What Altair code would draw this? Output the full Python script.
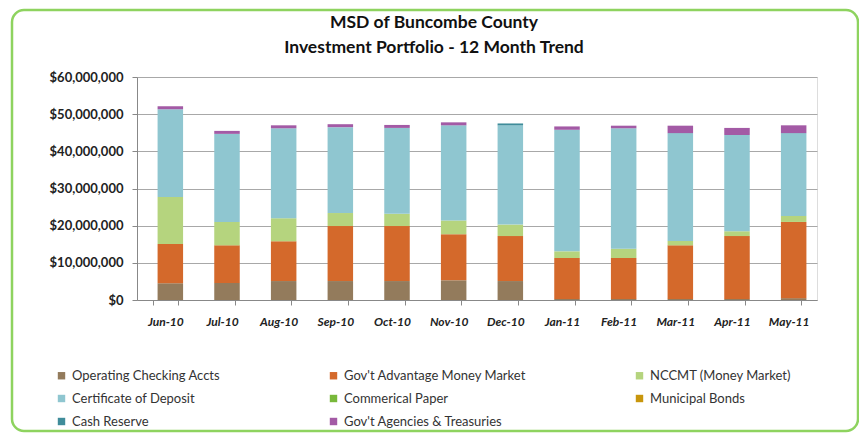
import altair as alt
import pandas as pd

months = ["Jun-10", "Jul-10", "Aug-10", "Sep-10", "Oct-10", "Nov-10",
          "Dec-10", "Jan-11", "Feb-11", "Mar-11", "Apr-11", "May-11"]

series = ["Operating Checking Accts", "Gov't Advantage Money Market",
          "NCCMT (Money Market)", "Certificate of Deposit", "Commerical Paper",
          "Municipal Bonds", "Cash  Reserve", "Gov't Agencies & Treasuries"]

colors = ["#937B5C", "#D4692B", "#B5D47E", "#8FC6D0", "#78B83A",
          "#C8960C", "#3F8C9A", "#A35AA5"]

# legend reading order (column by column, as the legend fills columns)
legend_order = ["Operating Checking Accts", "Certificate of Deposit", "Cash  Reserve",
                "Gov't Advantage Money Market", "Commerical Paper",
                "Gov't Agencies & Treasuries",
                "NCCMT (Money Market)", "Municipal Bonds"]

# values in $ millions
operating = [4.5, 4.6, 5.1, 5.1, 5.1, 5.3, 5.1, 0.3, 0.3, 0.3, 0.3, 0.5]
govt_adv = [10.6, 10.1, 10.7, 14.8, 14.8, 12.4, 12.1, 11.0, 11.0, 14.4, 16.9, 20.5]
nccmt = [12.6, 6.3, 6.2, 3.5, 3.3, 3.7, 3.1, 1.8, 2.5, 1.2, 1.3, 1.6]
cd = [23.6, 23.7, 24.2, 23.1, 23.1, 25.6, 26.7, 32.7, 32.4, 29.0, 25.9, 22.3]
comm_paper = [0] * 12
muni = [0] * 12
cash = [0, 0, 0, 0, 0, 0, 0.5, 0, 0, 0, 0, 0]
agencies = [0.8, 0.8, 0.8, 0.8, 0.8, 0.8, 0.0, 0.9, 0.7, 2.0, 1.9, 2.1]

y_ticks = [0, 10e6, 20e6, 30e6, 40e6, 50e6, 60e6]

title_lines = ["MSD of Buncombe County", "Investment Portfolio - 12 Month Trend"]

all_vals = [operating, govt_adv, nccmt, cd, comm_paper, muni, cash, agencies]
rows = []
for si, (name, vals) in enumerate(zip(series, all_vals)):
    for mi, m in enumerate(months):
        rows.append({"month": m, "series": name, "order": si,
                     "value": vals[mi] * 1e6})
df = pd.DataFrame(rows)

FONT = "Lato"

bars = alt.Chart(df).mark_bar(xOffset=5, stroke=None).encode(
    x=alt.X("month:N", sort=months, title=None,
            scale=alt.Scale(paddingInner=0.55, paddingOuter=0.275),
            axis=alt.Axis(labelAngle=0, labelFont=FONT, labelFontSize=12,
                          labelFontWeight="bold", labelFontStyle="italic",
                          labelColor="#222", labelPadding=11, tickBand="extent",
                          tickColor="#888", tickSize=5, domainColor="#888",
                          grid=False)),
    y=alt.Y("value:Q", stack="zero", title=None,
            scale=alt.Scale(domain=[0, 60e6], nice=False),
            axis=alt.Axis(values=y_ticks,
                          labelExpr="'$' + format(datum.value, ',')",
                          labelFont=FONT, labelFontSize=13, labelFontWeight="bold",
                          labelColor="#222", labelPadding=9, tickSize=5,
                          tickColor="#888", domainColor="#888",
                          gridColor="#A8A8A8", gridWidth=1)),
    color=alt.Color("series:N", scale=alt.Scale(domain=series, range=colors),
                    legend=alt.Legend(title=None, orient="none", legendX=-82,
                                      legendY=292, columns=3, columnPadding=106,
                                      rowPadding=9, symbolType="square",
                                      symbolSize=55, symbolStrokeWidth=0,
                                      labelFont=FONT, labelFontSize=13,
                                      labelColor="#333", padding=0,
                                      labelLimit=300, values=legend_order)),
    order=alt.Order("order:Q", sort="ascending"),
)

title_df = pd.DataFrame({"line": title_lines, "i": [0, 1]})
title1 = alt.Chart(title_df).transform_filter("datum.i == 0").mark_text(
    font=FONT, fontSize=17.5, fontWeight="bold", color="#111",
    align="center", baseline="middle"
).encode(text="line:N", x=alt.value(297), y=alt.value(-54))
title2 = alt.Chart(title_df).transform_filter("datum.i == 1").mark_text(
    font=FONT, fontSize=17.5, fontWeight="bold", color="#111",
    align="center", baseline="middle"
).encode(text="line:N", x=alt.value(297), y=alt.value(-29))

frame = alt.Chart(pd.DataFrame({"a": [0]})).mark_rect(
    cornerRadius=12, fillOpacity=0, stroke="#8ED35F", strokeWidth=2.5
).encode(
    x=alt.value(-125), x2=alt.value(721), y=alt.value(-67), y2=alt.value(354)
)

chart = alt.layer(bars, title1, title2, frame).properties(
    width=680, height=223,
    padding={"left": 129, "top": 69, "right": 42, "bottom": 133},
    autosize=alt.AutoSizeParams(type="none"),
).configure_view(stroke=None).configure(background="white")

chart.save("out.html", embed_options={"renderer": "svg", "actions": False})
